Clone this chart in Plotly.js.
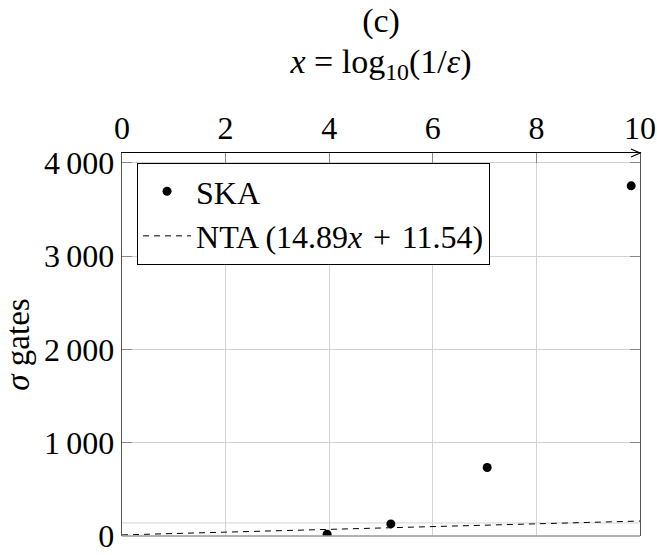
<!DOCTYPE html>
<html>
<head>
<meta charset="utf-8">
<script src="https://cdn.plot.ly/plotly-3.0.1.min.js"></script>
<style>html,body{margin:0;padding:0;background:#fff}</style>
</head>
<body>
<div id="chart" style="width:657px;height:555px"></div>
<script>
// SKA gate counts against x = log10(1/eps)
const skaX = [3.96, 5.19, 7.05, 9.83];
const skaY = [20, 130, 735, 3755];

// NTA linear fit, as given in the legend: 14.89x + 11.54
const ntaSlope = 14.89;
const ntaIntercept = 11.54;
const ntaX = [0, 10];
const ntaY = ntaX.map(x => ntaSlope * x + ntaIntercept);

// Axis ticks
const xTickVals = [0, 2, 4, 6, 8, 10];
const yTickVals = [0, 1000, 2000, 3000, 4000];
const yTickText = ['0', '1\u2009000', '2\u2009000', '3\u2009000', '4\u2009000'];

const FONT = '"Liberation Serif", "DejaVu Serif", serif';
const GRID = '#d3d3d3';

const traces = [
  {
    x: skaX, y: skaY, type: 'scatter', mode: 'markers', name: 'SKA',
    marker: {color: '#000', size: 9}
  },
  {
    x: ntaX, y: ntaY, type: 'scatter', mode: 'lines',
    name: 'NTA (14.89<i>x</i>\u2004+\u200411.54)',
    line: {color: '#000', width: 1, dash: '6px,5px'}
  }
];

const layout = {
  width: 657, height: 555,
  margin: {l: 122, r: 17, t: 153, b: 19},
  paper_bgcolor: '#fff', plot_bgcolor: '#fff',
  font: {family: FONT, color: '#000', size: 32},
  showlegend: true,
  title: {
    text: '(c)', x: 0.5, xref: 'paper', xanchor: 'center',
    y: 1 - 20 / 555, yref: 'container', yanchor: 'middle',
    font: {family: FONT, size: 34, color: '#000'}
  },
  xaxis: {
    range: [0, 10], side: 'top',
    tickvals: xTickVals, ticktext: xTickVals.map(String),
    ticks: 'inside', ticklen: 10, tickcolor: '#888', tickwidth: 1,
    showline: true, linecolor: '#000', linewidth: 1,
    showgrid: true, gridcolor: GRID, gridwidth: 1, zeroline: false,
    tickfont: {family: FONT, size: 32},
    title: {text: '<i>x</i> = log<sub>10</sub>(1/<i>ε</i>)', font: {family: FONT, size: 34}, standoff: 26}
  },
  yaxis: {
    range: [0, 4107],
    tickvals: yTickVals, ticktext: yTickText,
    ticks: 'inside', ticklen: 10, tickcolor: '#888', tickwidth: 1,
    showline: true, mirror: 'ticks', linecolor: '#555', linewidth: 1.3,
    showgrid: true, gridcolor: GRID, gridwidth: 1, zeroline: false,
    tickfont: {family: FONT, size: 32},
    title: {text: '<i>σ</i> gates', font: {family: FONT, size: 33}, standoff: 16}
  },
  legend: {
    x: 0.029, y: 0.974, xanchor: 'left', yanchor: 'top',
    bgcolor: '#fff', bordercolor: '#000', borderwidth: 1,
    font: {family: FONT, size: 32}, tracegroupgap: 0, itemwidth: 48
  },
  shapes: [
    // bottom frame edge
    {type: 'line', xref: 'paper', yref: 'paper', x0: 0, x1: 1, y0: 0, y1: 0,
     line: {color: '#999', width: 1.3}},
    // extra horizontal grid line near the bottom
    {type: 'line', xref: 'paper', yref: 'y', x0: 0, x1: 1, y0: 140, y1: 140,
     layer: 'below', line: {color: GRID, width: 1}},
    // arrow head at the end of the top axis
    {type: 'path', xref: 'paper', yref: 'paper', xsizemode: 'pixel', ysizemode: 'pixel',
     xanchor: 1, yanchor: 1, path: 'M-9,-4 L0,0 L-9,4',
     line: {color: '#000', width: 1.2}}
  ]
};

Plotly.newPlot('chart', traces, layout, {displayModeBar: false, staticPlot: true});
</script>
</body>
</html>
